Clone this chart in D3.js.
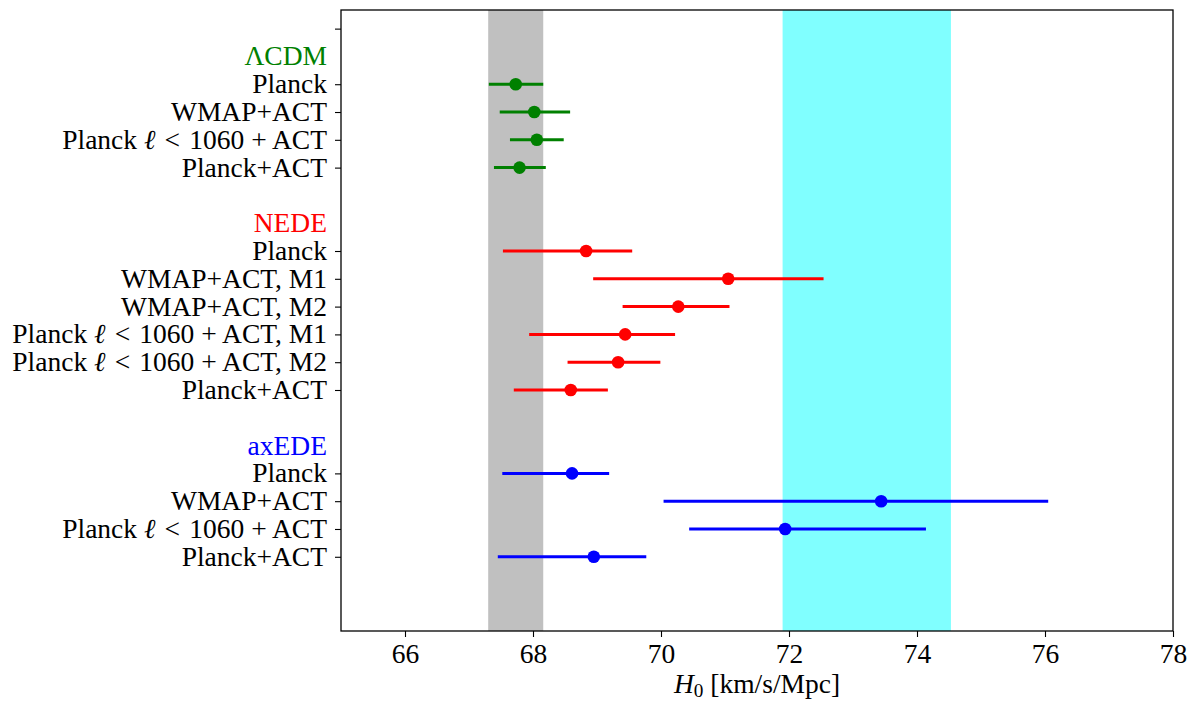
<!DOCTYPE html>
<html>
<head>
<meta charset="utf-8">
<script src="https://cdn.jsdelivr.net/npm/d3@7"></script>
<style>
  body { margin: 0; background: #fff; }
  svg text { font-family: "Liberation Serif", "Times New Roman", serif; }
</style>
</head>
<body>
<svg id="chart" width="1193" height="703"></svg>
<script>
// ---------------- data ----------------
const groupNames = ["ΛCDM", "NEDE", "axEDE"];
const groupColors = ["#008000", "#ff0000", "#0000ff"];

const lcdmLabels = ["Planck", "WMAP+ACT", "Planck ℓ < 1060 + ACT", "Planck+ACT"];
const lcdmH0     = [67.73, 68.02, 68.06, 67.79];
const lcdmLow    = [67.31, 67.48, 67.64, 67.39];
const lcdmHigh   = [68.16, 68.58, 68.48, 68.20];

const nedeLabels = ["Planck", "WMAP+ACT, M1", "WMAP+ACT, M2", "Planck ℓ < 1060 + ACT, M1", "Planck ℓ < 1060 + ACT, M2", "Planck+ACT"];
const nedeH0     = [68.83, 71.05, 70.27, 69.44, 69.33, 68.59];
const nedeLow    = [67.53, 68.94, 69.40, 67.94, 68.54, 67.70];
const nedeHigh   = [69.55, 72.54, 71.07, 70.22, 69.99, 69.17];

const axedeLabels = ["Planck", "WMAP+ACT", "Planck ℓ < 1060 + ACT", "Planck+ACT"];
const axedeH0     = [68.61, 73.44, 71.94, 68.95];
const axedeLow    = [67.52, 70.04, 70.44, 67.45];
const axedeHigh   = [69.19, 76.05, 74.14, 69.77];

const planckBand = [67.30, 68.16];
const shoesBand  = [71.90, 74.53];

const xTicks = [66, 68, 70, 72, 74, 76, 78];
const xDomain = [65, 78];

// ---------------- layout ----------------
const svg = d3.select("#chart");
const L = 341, R = 1173, T = 10, B = 631;
const fontSize = 27.5;

const groupsData = [
  {labels: lcdmLabels, h0: lcdmH0, lo: lcdmLow, hi: lcdmHigh},
  {labels: nedeLabels, h0: nedeH0, lo: nedeLow, hi: nedeHigh},
  {labels: axedeLabels, h0: axedeH0, lo: axedeLow, hi: axedeHigh}
];
const headers = [];
const points = [];
const tickRows = [0];
let row = 1;
groupsData.forEach((g, gi) => {
  headers.push({name: groupNames[gi], color: groupColors[gi], row: row});
  row++;
  g.labels.forEach((lab, i) => {
    points.push({label: lab, h0: g.h0[i], lo: g.lo[i], hi: g.hi[i], color: groupColors[gi], row: row});
    tickRows.push(row);
    row++;
  });
  row++;
});

const x = d3.scaleLinear().domain(xDomain).range([L, R]);
const y = d3.scaleLinear().domain([-0.67, 21.67]).range([T, B]);

// bands
svg.append("rect")
  .attr("x", x(planckBand[0])).attr("y", T)
  .attr("width", x(planckBand[1]) - x(planckBand[0])).attr("height", B - T)
  .attr("fill", "#c0c0c0");
svg.append("rect")
  .attr("x", x(shoesBand[0])).attr("y", T)
  .attr("width", x(shoesBand[1]) - x(shoesBand[0])).attr("height", B - T)
  .attr("fill", "#80ffff");

// error bars
svg.append("g").selectAll("line").data(points).join("line")
  .attr("x1", d => x(d.lo)).attr("x2", d => x(d.hi))
  .attr("y1", d => y(d.row)).attr("y2", d => y(d.row))
  .attr("stroke", d => d.color).attr("stroke-width", 3);
svg.append("g").selectAll("circle").data(points).join("circle")
  .attr("cx", d => x(d.h0)).attr("cy", d => y(d.row)).attr("r", 6.3)
  .attr("fill", d => d.color);

// frame
svg.append("rect").attr("x", L).attr("y", T).attr("width", R - L).attr("height", B - T)
  .attr("fill", "none").attr("stroke", "#000").attr("stroke-width", 1.3);

// x axis
const xAxis = d3.axisBottom(x).tickValues(xTicks).tickFormat(d3.format("d")).tickSize(6).tickPadding(6);
const gx = svg.append("g").attr("transform", `translate(0,${B})`).call(xAxis);
gx.select(".domain").remove();
gx.selectAll(".tick line").attr("stroke", "#000").attr("stroke-width", 1.1);
gx.selectAll(".tick text").attr("font-size", fontSize).attr("font-family", "Liberation Serif, serif").attr("fill", "#000");

// y ticks
const yAxis = d3.axisLeft(y).tickValues(tickRows).tickFormat("").tickSize(6);
const gy = svg.append("g").attr("transform", `translate(${L},0)`).call(yAxis);
gy.select(".domain").remove();
gy.selectAll(".tick line").attr("stroke", "#000").attr("stroke-width", 1.1);

// y tick labels (with italic ell)
const lab = svg.append("g").selectAll("text").data(points).join("text")
  .attr("x", L - 14).attr("y", d => y(d.row)).attr("dy", "0.33em")
  .attr("text-anchor", "end").attr("font-size", fontSize).attr("fill", "#000");
lab.each(function(d) {
  const t = d3.select(this);
  const idx = d.label.indexOf("ℓ");
  if (idx < 0) { t.text(d.label); return; }
  const before = d.label.slice(0, idx);
  const after = d.label.slice(idx + 1).replace(" < ", "\u2004<\u2004");
  t.append("tspan").text(before);
  t.append("tspan").attr("font-style", "italic").text("ℓ");
  t.append("tspan").text(after);
});

// group headers
svg.append("g").selectAll("text").data(headers).join("text")
  .attr("x", L - 14).attr("y", d => y(d.row)).attr("dy", "0.33em")
  .attr("text-anchor", "end").attr("font-size", fontSize)
  .attr("fill", d => d.color).text(d => d.name);

// x label
const xl = svg.append("text").attr("x", (L + R) / 2).attr("y", 693)
  .attr("text-anchor", "middle").attr("font-size", fontSize).attr("fill", "#000");
xl.append("tspan").attr("font-style", "italic").text("H");
xl.append("tspan").attr("font-size", fontSize * 0.7).attr("dy", 4).text("0");
xl.append("tspan").attr("dy", -4).text(" [km/s/Mpc]");
</script>
</body>
</html>
